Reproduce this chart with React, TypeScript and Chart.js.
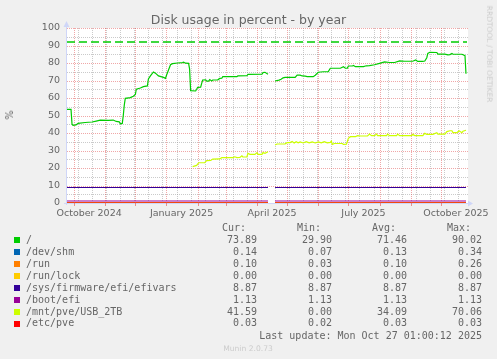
import React, { useEffect, useRef } from "react";
import { Chart, registerables } from "chart.js";

Chart.register(...registerables);

// ---------- data (x = days since 2024-10-01) ----------
const TITLE = "Disk usage in percent - by year";
const Y_LABEL = "%";
const X_MIN = -7;
const X_MAX = 391;
const Y_MIN = 0;
const Y_MAX = 100;
const Y_TICKS = [0, 10, 20, 30, 40, 50, 60, 70, 80, 90, 100];
const X_LABELS = ["October 2024", "January 2025", "April 2025", "July 2025", "October 2025"];
const X_LABEL_MONTHS: [number, number][] = [[2024, 9], [2025, 0], [2025, 3], [2025, 6], [2025, 9]];
const WARNING_LEVEL = 92;

const ROOT_DAYS = [
  -7, -3, -2, -1, 2, 4, 11, 18, 22, 26, 34, 39, 42, 45, 46, 48, 49, 50, 51, 56, 59, 61, 62, 66, 69, 73,
  74, 76, 79, 81, 84, 89, 91, 92, 94, 96, 98, 103, 108, 109, 111, 114, 115, 116, 121, 122, 123, 126,
  127, 128, 131, 132, 134, 135, 137, 138, 143, 145, 147, 148, 162, 163, 172, 173, 187, 188, 190, 193,
  196,
  200, 204, 206, 208, 210, 220, 222, 225, 227, 230, 232, 238, 240, 243, 248, 253, 255, 265, 268, 270,
  272, 273, 277, 278, 280, 288, 290, 291, 294, 299, 304, 309, 314, 319, 324, 329, 337, 340, 342, 347,
  349, 351, 352, 354, 361, 362, 369, 372, 374, 376, 377, 384, 386, 389, 390,
];
const ROOT_VALUES = [
  53.5, 53.5, 45, 44.4, 44.6, 45.5, 46, 46.3, 46.8, 47.3, 47.2, 47.4, 46.6, 46.4, 45.3, 45.5, 50, 56,
  59.8, 60.2, 61, 62, 65, 65.7, 66.5, 66.9, 70.9, 72.6, 74.9, 74.2, 72.6, 71.8, 71.2, 73, 76, 79, 79.6,
  80, 80.2, 80.5, 79.9, 79.8, 76.5, 64.2, 64.0, 65, 66.1, 66.2, 68.4, 70.3, 70.4, 69.7, 69.7, 70.5,
  69.7, 70.3, 70.4, 71.2, 71.3, 72.2, 72.2, 72.6, 72.7, 73.5, 73.6, 74.5, 74.7, 73.6,
  null,
  69.7, 70.2, 70.7, 71.5, 71.8, 71.8, 73.1, 73.1, 72.6, 72.5, 72.2, 72.2, 73, 74.7, 75, 75.1, 77, 77,
  77.9, 77, 77.1, 78.3, 78.3, 78.6, 77.9, 77.9, 78.3, 78.4, 78.5, 79, 79.8, 80.6, 80.3, 80.3, 81.2, 81,
  81, 81.7, 80.9, 80.9, 81.1, 83, 85.5, 86.1, 86, 85.1, 85.1, 84.7, 84.8, 85.5, 85, 85, 85, 84.2, 73.9,
];

const USB_DAYS = [
  118, 122, 124, 130, 132, 136, 138, 145, 147, 158, 160, 162, 165, 167, 168, 172, 173, 175, 180, 182,
  183, 187, 188, 190, 193,
  196,
  200, 202, 210, 212, 215, 217, 219, 221, 223, 225, 228, 231, 234, 237, 240, 243, 246, 249, 252, 255,
  256, 257, 259, 267, 268, 271, 273, 275, 280, 282, 285, 292, 294, 296, 299, 301, 302, 311, 312, 314,
  321, 322, 324, 336, 337, 339, 347, 349, 351, 357, 361, 362, 369, 371, 374, 376, 377, 381, 383, 386,
  387, 390,
];
const USB_VALUES = [
  20.8, 21.5, 23, 23.1, 24.2, 24.3, 25.1, 25.2, 25.9, 25.9, 26.4, 25.9, 26.0, 27.0, 26.3, 26.3, 28.4,
  27.8, 27.8, 28.8, 27.8, 27.8, 28.8, 28.4, 29.3,
  null,
  33.1, 33.7, 33.8, 34.5, 34.5, 35.1, 34.3, 35.0, 34.4, 34.9, 34.3, 35.0, 34.4, 34.9, 34.3, 34.9, 34.4,
  35.1, 34.4, 34.6, 35.4, 33.5, 34.0, 34.0, 33.5, 33.6, 37, 37.9, 37.9, 38.5, 38.3, 38.3, 39.4, 38.5,
  38.5, 39.4, 38.5, 38.5, 39.4, 38.5, 38.5, 39.4, 38.5, 38.5, 39.2, 38.5, 38.5, 39.8, 39.2, 39.2, 40.2,
  39.4, 39.4, 40.8, 41.3, 41.3, 40.2, 40.2, 41.3, 40.2, 41.0, 41.6,
];

// flat series: covered day ranges (before/after the data gap)
const FLAT_SEGMENTS: [number, number][] = [[-7, 193], [200, 390]];
const SHM_LEVEL = 0.14;
const RUN_LEVEL = 0.1;
const RUNLOCK_LEVEL = 0.0;
const EFIVARS_LEVEL = 8.87;
const BOOTEFI_LEVEL = 1.13;
const ETCPVE_LEVEL = 0.03;

const LEGEND_NAMES = ["/", "/dev/shm", "/run", "/run/lock", "/sys/firmware/efi/efivars", "/boot/efi", "/mnt/pve/USB_2TB", "/etc/pve"];
const LEGEND_COLORS = ["#00CC00", "#0066B3", "#FF8000", "#FFCC00", "#330099", "#990099", "#CCFF00", "#FF0000"];
const CUR_VALUES = ["73.89", "0.14", "0.10", "0.00", "8.87", "1.13", "41.59", "0.03"];
const MIN_VALUES = ["29.90", "0.07", "0.03", "0.00", "8.87", "1.13", "0.00", "0.02"];
const AVG_VALUES = ["71.46", "0.13", "0.10", "0.00", "8.87", "1.13", "34.09", "0.03"];
const MAX_VALUES = ["90.02", "0.34", "0.26", "0.00", "8.87", "1.13", "70.06", "0.03"];
const COLUMN_HEADERS = ["Cur:", "Min:", "Avg:", "Max:"];
const LAST_UPDATE = "Last update: Mon Oct 27 01:00:12 2025";
const WATERMARK = "Munin 2.0.73";
const SIDE_TEXT = "RRDTOOL / TOBI OETIKER";

// ---------- helpers ----------
const DAY0 = Date.UTC(2024, 9, 1);
const dayOf = (y: number, m: number, d: number) => (Date.UTC(y, m, d) - DAY0) / 86400000;
const LABEL_DAYS = X_LABEL_MONTHS.map(([y, m]) => dayOf(y, m, 16));
const MONTH_STARTS: number[] = [];
for (let i = 0; i <= 12; i++) MONTH_STARTS.push(dayOf(2024, 9 + i, 1));
const MINOR_DAYS: number[] = [];
for (let d = 4; d <= X_MAX; d += 14) MINOR_DAYS.push(d);

const pts = (days: number[], vals: (number | null)[]) => days.map((d, i) => ({ x: d, y: vals[i] }));
const flat = (level: number) => [
  { x: FLAT_SEGMENTS[0][0], y: level },
  { x: FLAT_SEGMENTS[0][1], y: level },
  { x: (FLAT_SEGMENTS[0][1] + FLAT_SEGMENTS[1][0]) / 2, y: null },
  { x: FLAT_SEGMENTS[1][0], y: level },
  { x: FLAT_SEGMENTS[1][1], y: level },
];

const SANS = "'DejaVu Sans', 'Liberation Sans', sans-serif";
const MONO = "'DejaVu Sans Mono', 'Liberation Mono', monospace";
const FONT_COLOR = "#666666";
const AXIS_COLOR = "#CFD6F8";

const muninPlugin = {
  id: "muninDecor",
  beforeDraw(chart: any) {
    const { ctx, chartArea: a } = chart;
    ctx.save();
    ctx.fillStyle = "#F0F0F0";
    ctx.fillRect(0, 0, chart.width, chart.height);
    ctx.fillStyle = "#FFFFFF";
    ctx.fillRect(a.left, a.top, a.right - a.left + 1, a.bottom - a.top);
    ctx.restore();
  },
  beforeDatasetsDraw(chart: any) {
    const { ctx, chartArea: a, scales } = chart;
    const xs = scales.x;
    const ys = scales.y;
    ctx.save();
    ctx.lineWidth = 1;
    ctx.setLineDash([1, 1]);
    const minorColor = "rgba(150,150,150,0.5)";
    const majorColor = "rgba(225,80,80,0.5)";
    ctx.strokeStyle = minorColor;
    ctx.beginPath();
    for (let v = Y_MIN; v <= Y_MAX; v += 5) {
      if (v % 10 === 0) continue;
      const py = Math.round(ys.getPixelForValue(v)) + 0.5;
      ctx.moveTo(a.left, py);
      ctx.lineTo(a.right + 1, py);
    }
    for (const d of MINOR_DAYS) {
      if (d < X_MIN || d > X_MAX) continue;
      const px = Math.round(xs.getPixelForValue(d)) + 0.5;
      ctx.moveTo(px, a.top);
      ctx.lineTo(px, a.bottom);
    }
    ctx.stroke();
    ctx.strokeStyle = majorColor;
    ctx.beginPath();
    for (const v of Y_TICKS) {
      const py = Math.round(ys.getPixelForValue(v)) + 0.5;
      ctx.moveTo(a.left, py);
      ctx.lineTo(a.right + 1, py);
    }
    for (const d of MONTH_STARTS) {
      if (d < X_MIN || d > X_MAX) continue;
      const px = Math.round(xs.getPixelForValue(d)) + 0.5;
      ctx.moveTo(px, a.top);
      ctx.lineTo(px, a.bottom);
    }
    ctx.stroke();
    ctx.restore();
  },
  afterDatasetsDraw(chart: any) {
    const { ctx, chartArea: a, scales } = chart;
    const xs = scales.x;
    ctx.save();
    ctx.lineWidth = 1;
    ctx.setLineDash([]);
    ctx.strokeStyle = AXIS_COLOR;
    ctx.fillStyle = AXIS_COLOR;
    ctx.beginPath();
    const ax = Math.round(a.left) - 0.5;
    ctx.moveTo(ax, a.bottom + 2);
    ctx.lineTo(ax, a.top - 3);
    const ay = Math.round(a.bottom) + 0.5;
    ctx.moveTo(a.left - 3, ay);
    ctx.lineTo(a.right + 2, ay);
    ctx.stroke();
    ctx.beginPath();
    ctx.moveTo(ax, a.top - 7);
    ctx.lineTo(ax - 3, a.top - 1);
    ctx.lineTo(ax + 3, a.top - 1);
    ctx.closePath();
    ctx.fill();
    ctx.beginPath();
    ctx.moveTo(a.right + 6, ay);
    ctx.lineTo(a.right + 1, ay - 3);
    ctx.lineTo(a.right + 1, ay + 3);
    ctx.closePath();
    ctx.fill();
    // tick marks at month starts
    ctx.strokeStyle = "rgba(225,80,80,0.6)";
    ctx.beginPath();
    for (const d of MONTH_STARTS) {
      if (d < X_MIN || d > X_MAX) continue;
      const px = Math.round(xs.getPixelForValue(d)) + 0.5;
      ctx.moveTo(px, a.bottom - 1);
      ctx.lineTo(px, a.bottom + 3);
    }
    ctx.stroke();
    ctx.restore();
  },
};

const txt = (
  opts: { left?: number; right?: number; baseline: number; size: number; mono?: boolean; color?: string; center?: number }
) => {
  const L = opts.size;
  const top = opts.baseline - L / 2 - 0.346 * opts.size;
  const style: React.CSSProperties = {
    position: "absolute",
    top,
    fontFamily: opts.mono ? MONO : SANS,
    fontSize: opts.size,
    lineHeight: `${L}px`,
    color: opts.color || FONT_COLOR,
    whiteSpace: "pre",
  };
  if (opts.center !== undefined) {
    style.left = opts.center - 200;
    style.width = 400;
    style.textAlign = "center";
  } else if (opts.right !== undefined) {
    style.right = 497 - opts.right;
    style.textAlign = "right";
  } else {
    style.left = opts.left;
  }
  return style;
};

export default function App() {
  const canvasRef = useRef<HTMLCanvasElement | null>(null);

  useEffect(() => {
    if (!canvasRef.current) return;
    const common = { pointRadius: 0, pointHoverRadius: 0, fill: false, tension: 0, spanGaps: false, borderWidth: 1.2, clip: 0 };
    const seriesData = [
      pts(ROOT_DAYS, ROOT_VALUES),
      flat(SHM_LEVEL),
      flat(RUN_LEVEL),
      flat(RUNLOCK_LEVEL),
      flat(EFIVARS_LEVEL),
      flat(BOOTEFI_LEVEL),
      pts(USB_DAYS, USB_VALUES),
      flat(ETCPVE_LEVEL),
    ];
    const datasets: any[] = seriesData.map((data, i) => ({
      ...common,
      label: LEGEND_NAMES[i],
      data,
      borderColor: LEGEND_COLORS[i],
      borderWidth: i === 0 || i === 4 || i === 5 || i === 6 ? 1.2 : 1,
      order: -i,
    }));
    datasets.push({
      ...common,
      label: "warning",
      data: [{ x: X_MIN, y: WARNING_LEVEL }, { x: X_MAX, y: WARNING_LEVEL }],
      borderColor: LEGEND_COLORS[0],
      borderDash: [8, 4],
      borderWidth: 1.4,
      order: 5,
    });

    const chart = new Chart(canvasRef.current, {
      type: "line",
      data: { datasets },
      plugins: [muninPlugin],
      options: {
        animation: false,
        responsive: false,
        devicePixelRatio: 1,
        events: [],
        layout: { padding: { top: 28, right: 30, bottom: 0, left: 0 } },
        plugins: { legend: { display: false }, title: { display: false }, tooltip: { enabled: false } },
        scales: {
          x: {
            type: "linear",
            min: X_MIN,
            max: X_MAX,
            grid: { display: false, drawTicks: false },
            border: { display: false },
            afterFit: (s: any) => {
              s.height = 156;
            },
            afterBuildTicks: (s: any) => {
              s.ticks = LABEL_DAYS.map((v) => ({ value: v }));
            },
            ticks: {
              autoSkip: false,
              maxRotation: 0,
              minRotation: 0,
              padding: 5,
              color: FONT_COLOR,
              font: { family: SANS, size: 9.5 },
              callback: (v: any) => {
                const i = LABEL_DAYS.indexOf(Number(v));
                return i >= 0 ? X_LABELS[i] : "";
              },
            },
          },
          y: {
            type: "linear",
            min: Y_MIN,
            max: Y_MAX,
            grid: { display: false, drawTicks: false },
            border: { display: false },
            afterFit: (s: any) => {
              s.width = 67;
            },
            afterBuildTicks: (s: any) => {
              s.ticks = Y_TICKS.map((v) => ({ value: v }));
            },
            ticks: {
              padding: 7,
              color: FONT_COLOR,
              font: { family: SANS, size: 9.5 },
              callback: (v: any) => String(v),
            },
          },
        },
      },
    });
    return () => chart.destroy();
  }, []);

  const rowBase = (i: number) => 243.3 + 11.95 * i;
  const valueRights = [257, 332, 407, 482];
  const headerLefts = [222, 297, 372, 447];
  const cols = [CUR_VALUES, MIN_VALUES, AVG_VALUES, MAX_VALUES];

  return (
    <div style={{ position: "absolute", left: 0, top: 0, width: 497, height: 359, background: "#F0F0F0", overflow: "hidden" }}>
      <canvas ref={canvasRef} width={497} height={359} style={{ position: "absolute", left: 0, top: 0, width: 497, height: 359, display: "block" }} />
      <div style={txt({ center: 248.5, baseline: 24.3, size: 12.5 })}>{TITLE}</div>
      <div
        style={{
          position: "absolute",
          left: 10.3,
          top: 114.7,
          transform: "translate(-50%, -50%) rotate(-90deg)",
          fontFamily: SANS,
          fontSize: 9.7,
          lineHeight: "10px",
          color: FONT_COLOR,
          whiteSpace: "pre",
        }}
      >
        {Y_LABEL}
      </div>
      <div
        style={{
          position: "absolute",
          left: 488.5,
          top: 53.5,
          transform: "translate(-50%, -50%) rotate(90deg)",
          fontFamily: SANS,
          fontSize: 7.5,
          lineHeight: "8px",
          color: "#CCCCCC",
          whiteSpace: "pre",
        }}
      >
        {SIDE_TEXT}
      </div>
      {COLUMN_HEADERS.map((h, j) => (
        <div key={"h" + j} style={txt({ left: headerLefts[j], baseline: 231.3, size: 10, mono: true })}>
          {h}
        </div>
      ))}
      {LEGEND_NAMES.map((name, i) => (
        <React.Fragment key={name}>
          <div
            style={{
              position: "absolute",
              left: 14,
              top: rowBase(i) - 6,
              width: 6,
              height: 6,
              background: LEGEND_COLORS[i],
            }}
          />
          <div style={txt({ left: 26, baseline: rowBase(i), size: 10, mono: true })}>{name}</div>
          {cols.map((c, j) => (
            <div key={j} style={txt({ right: valueRights[j], baseline: rowBase(i), size: 10, mono: true })}>
              {c[i]}
            </div>
          ))}
        </React.Fragment>
      ))}
      <div style={txt({ right: 482, baseline: 339.3, size: 10, mono: true })}>{LAST_UPDATE}</div>
      <div style={txt({ center: 248, baseline: 351.7, size: 7.6, color: "#CCCCCC" })}>{WATERMARK}</div>
    </div>
  );
}
